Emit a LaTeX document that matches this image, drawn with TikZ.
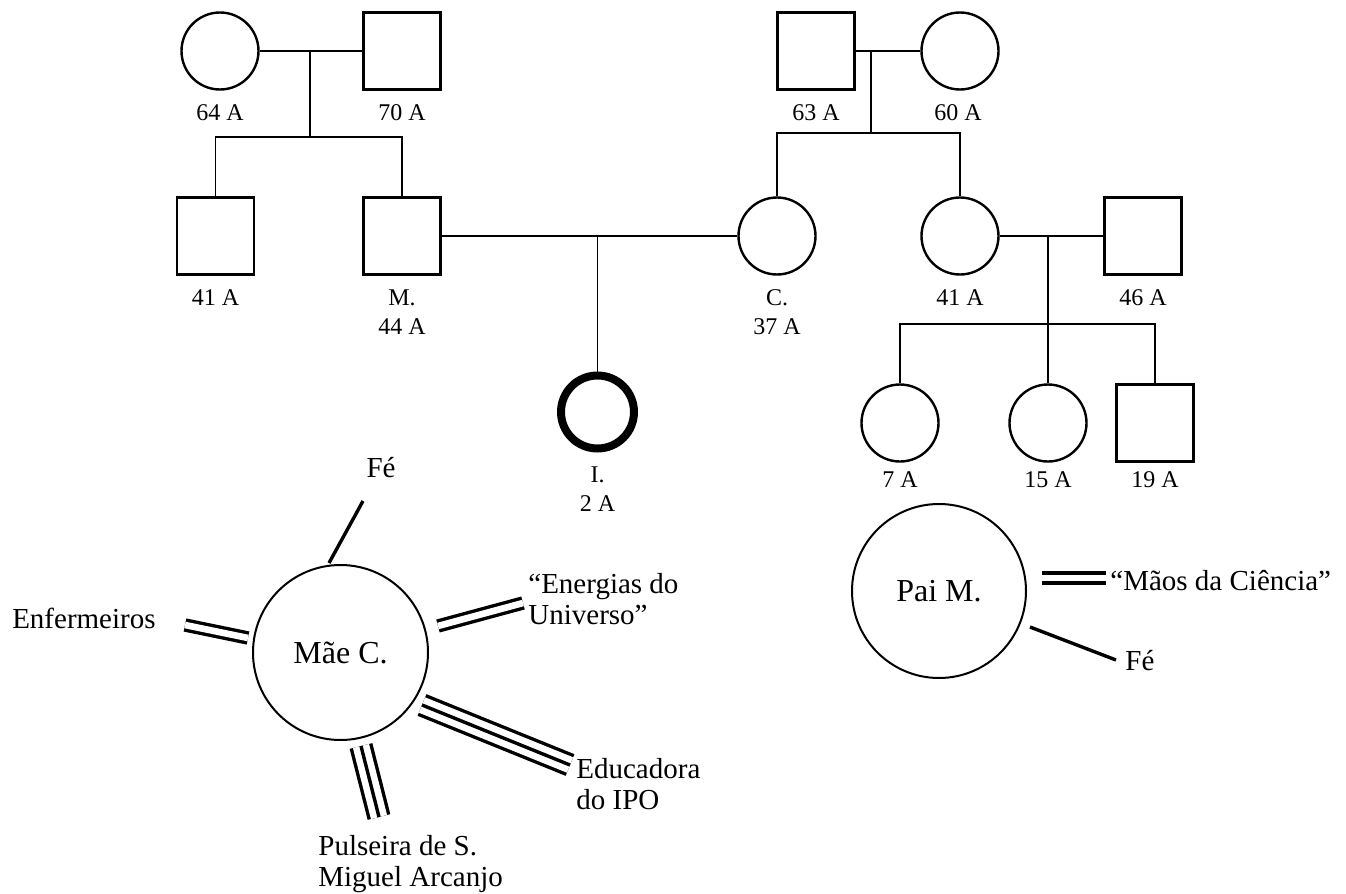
\documentclass[tikz,border=0pt]{standalone}
\usepackage{fontspec}
\setmainfont{Liberation Serif}
\begin{document}
\begin{tikzpicture}[x=0.5pt,y=-0.5pt,
  person/.style={draw,line width=1.2pt,minimum size=38.5pt,inner sep=0pt},
  fem/.style={person,circle},
  mal/.style={person,rectangle},
  index/.style={person,circle,line width=4pt,minimum size=36.5pt},
  eco/.style={draw,circle,line width=1pt,minimum size=87.5pt,inner sep=0pt,font=\fontsize{16}{19}\selectfont},
  lbl/.style={font=\fontsize{12}{14.5}\selectfont,inner sep=0pt},
  elbl/.style={font=\fontsize{14.5}{15.5}\selectfont,inner sep=0pt},
  link/.style={line width=0.65pt},
  tie/.style={line width=1.7pt},
  tieii/.style={line width=1.7pt,double,double distance=3.3pt},
  tieiii/.style={line width=1.7pt,double,double distance=8.3pt},
]
\useasboundingbox (0,0) rectangle (1346,894);

% pedigree persons
\node[fem] (gm1) at (220,51) {};
\node[mal] (gf1) at (402,51) {};
\node[mal] (unc) at (215.5,236) {};
\node[mal] (M) at (402,236) {};
\node[mal] (gf2) at (816,51) {};
\node[fem] (gm2) at (960,51) {};
\node[fem] (C) at (777,236) {};
\node[fem] (aunt) at (960,236) {};
\node[mal] (uncle) at (1143,236) {};
\node[index] (I) at (597.5,412) {};
\node[fem] (c1) at (900,423) {};
\node[fem] (c2) at (1048,423) {};
\node[mal] (c3) at (1155,423) {};

% pedigree labels
\node[lbl,anchor=base] (l64) at (220,120) {64 A};
\node[lbl,anchor=base] (l70) at (402,120) {70 A};
\node[lbl,anchor=base] (l63) at (816,120) {63 A};
\node[lbl,anchor=base] (l60) at (958,120) {60 A};
\node[lbl,anchor=base] (l41a) at (215.5,305) {41 A};
\node[lbl,anchor=north,align=center] (lM) at (402,289) {M.\\44 A};
\node[lbl,anchor=north,align=center] (lC) at (777,289) {C.\\37 A};
\node[lbl,anchor=base] (l41b) at (960,305) {41 A};
\node[lbl,anchor=base] (l46) at (1143,305) {46 A};
\node[lbl,anchor=north,align=center] (lI) at (597.5,466) {I.\\2 A};
\node[lbl,anchor=base] (l7) at (900,487) {7 A};
\node[lbl,anchor=base] (l15) at (1048,487) {15 A};
\node[lbl,anchor=base] (l19) at (1155,487) {19 A};

% pedigree connectors
\coordinate (j1) at (310,51);  \coordinate (s1) at (310,137);
\coordinate (j2) at (871,51);  \coordinate (s2) at (871,133);
\coordinate (j3) at (597.5,236);
\coordinate (j4) at (1048,236); \coordinate (s4) at (1048,324);
\draw[link] (gm1.east) -- (gf1.west);
\draw[link] (j1) -- (s1);
\draw[link] (unc.north) |- (s1) -| (M.north);
\draw[link] (gf2.east) -- (gm2.west);
\draw[link] (j2) -- (s2);
\draw[link] (C.north) |- (s2) -| (aunt.north);
\draw[link] (M.east) -- (C.west);
\draw[link] (j3) -- (I.north);
\draw[link] (aunt.east) -- (uncle.west);
\draw[link] (j4) -- (c2.north);
\draw[link] (c1.north) |- (s4) -| (c3.north);

% ecomap Mae C.
\node[eco] (mae) at (340.5,652.5) {Mãe C.};
\node[elbl,anchor=base] (tfe1) at (381,477) {Fé};
\node[elbl,anchor=north west,align=left] (ten) at (528,573) {“Energias do\\Universo”};
\node[elbl,anchor=base east] (tenf) at (156,628) {Enfermeiros};
\node[elbl,anchor=north west,align=left] (tedu) at (576,758) {Educadora\\do IPO};
\node[elbl,anchor=north west,align=left] (tpul) at (318,835) {Pulseira de S.\\Miguel Arcanjo};

\coordinate (a1) at (329,563);  \coordinate (b1) at (363,501);
\coordinate (a2) at (438,626);  \coordinate (b2) at (523,603);
\coordinate (a3) at (248,638);  \coordinate (b3) at (185,625);
\coordinate (a4) at (422,705);  \coordinate (b4) at (570,765);
\coordinate (a5) at (361,746);  \coordinate (b5) at (379,817);
\draw[tie] (a1) -- (b1);
\draw[tieii] (a2) -- (b2);
\draw[tieii] (a3) -- (b3);
\draw[tieiii] (a4) -- (b4);
\draw[tie] (a4) -- (b4);
\draw[tieiii] (a5) -- (b5);
\draw[tie] (a5) -- (b5);

% ecomap Pai M.
\node[eco,minimum size=87pt] (pai) at (939,591) {Pai M.};
\node[elbl,anchor=base west] (tmaos) at (1110,590) {“Mãos da Ciência”};
\node[elbl,anchor=base west] (tfe2) at (1125,670) {Fé};
\coordinate (a6) at (1042,578); \coordinate (b6) at (1106,578);
\coordinate (a7) at (1030,627); \coordinate (b7) at (1116,660);
\draw[tieii] (a6) -- (b6);
\draw[tie] (a7) -- (b7);
\end{tikzpicture}
\end{document}
